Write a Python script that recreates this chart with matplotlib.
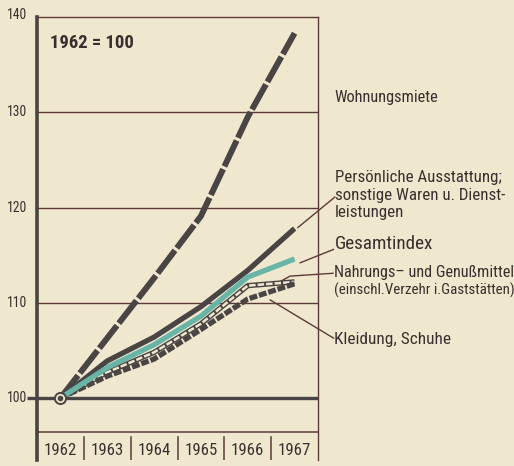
import matplotlib
matplotlib.use("Agg")
import matplotlib.pyplot as plt
from matplotlib import font_manager

# index values, 1962 = 100
years = [1962, 1963, 1964, 1965, 1966, 1967]
wohnungsmiete = [100, 106.3, 112.6, 119.1, 129.5, 138.3]
persoenlich = [100, 103.9, 106.4, 109.6, 113.4, 117.8]
gesamtindex = [100, 103.2, 105.6, 108.6, 112.7, 114.6]
nahrung = [100, 102.7, 104.8, 107.8, 111.8, 112.2]
kleidung = [100, 102.3, 104.1, 107.2, 110.4, 112.0]

y_ticks = [100, 110, 120, 130, 140]

PAPER = "#f0e7cf"
INK = "#4a4545"
RULE = "#5c3a3a"
TEAL = "#68b5a8"
TEXT = "#3a2f2f"

# the print uses a condensed grotesque; take the narrowest family we have
installed = {f.name for f in font_manager.fontManager.ttflist}
for cand in ["Liberation Sans Narrow", "Roboto Condensed", "Open Sans Condensed",
             "DejaVu Sans Condensed", "Roboto", "Liberation Sans"]:
    if cand in installed:
        FAMILY = cand
        break
else:
    FAMILY = "DejaVu Sans"
plt.rcParams["font.family"] = [FAMILY, "DejaVu Sans"]

fig = plt.figure(figsize=(5.14, 4.66), dpi=100, facecolor=PAPER)
ax = fig.add_axes([37 / 514, 6 / 466, 281 / 514, 443 / 466])
ax.set_facecolor(PAPER)
ax.set_xlim(1961.5, 1967.5)
ax.set_ylim(93.5, 140)
renderer = fig.canvas.get_renderer()


def fit(txt, width_px):
    # scale a text so it spans about the width it has in the print
    w = txt.get_window_extent(renderer).width
    txt.set_fontsize(txt.get_fontsize() * width_px / w)
    return txt


# frame
ax.spines["bottom"].set_visible(False)
ax.spines["left"].set_linewidth(2.6)
ax.spines["left"].set_color(INK)
for side in ["top", "right"]:
    ax.spines[side].set_linewidth(1.0)
    ax.spines[side].set_color(RULE)

# horizontal rules
for v in [110, 120, 130]:
    ax.axhline(v, color=RULE, lw=1.0, zorder=1)
ax.axhline(100, color=INK, lw=2.4, zorder=1)
ax.axhline(96.4, color=RULE, lw=1.1, zorder=1)
ax.plot([-0.035, 0], [100, 100], transform=ax.get_yaxis_transform(),
        color=INK, lw=2.4, clip_on=False, solid_capstyle="butt")

# year row
ax.set_xticks([])
for y in years:
    t = ax.text(y, 94.5, str(y), ha="center", va="center", fontsize=12, color=TEXT)
    fit(t, 33)
for y in years[:-1]:
    ax.plot([y + 0.5, y + 0.5], [93.5, 95.9], color=RULE, lw=1.1)

# y labels
ax.set_yticks([])
for v in y_ticks:
    t = ax.text(-0.035, v + (0.25 if v == 140 else 0), str(v),
                transform=ax.get_yaxis_transform(), ha="right", va="center",
                fontsize=10, color=TEXT)
    fit(t, 20)

# series
ax.plot(years, wohnungsmiete, color=INK, lw=4.3, dashes=(4.8, 0.5),
        solid_capstyle="butt", dash_capstyle="butt", zorder=4)
ax.plot(years, nahrung, color=INK, lw=3.8, solid_capstyle="butt", zorder=3)
ax.plot(years, nahrung, color=PAPER, lw=1.8, dashes=(2.6, 0.8),
        dash_capstyle="butt", zorder=3.1)
ax.plot(years, kleidung, color=INK, lw=3.8, dashes=(1.5, 0.35),
        dash_capstyle="butt", zorder=3.2)
ax.plot(years, persoenlich, color=INK, lw=3.8, solid_capstyle="butt", zorder=4)
ax.plot(years, gesamtindex, color=TEAL, lw=3.8, solid_capstyle="butt", zorder=5)
ax.plot([1962], [100], "o", ms=8, mfc=PAPER, mec=INK, mew=1.4, zorder=6)
ax.plot([1962], [100], "o", ms=3, mfc=INK, mec=INK, zorder=7)

t = ax.text(1961.78, 137.3, "1962 = 100", fontsize=13, fontweight="bold",
            color=TEXT, va="center", ha="left")
fit(t, 84)

# labels on the right with leader lines
tx = 1967.86
labels = [
    (tx, 131.6, "Wohnungsmiete", 104, 1.2),
    (tx, 121.3, "Persönliche Ausstattung;\nsonstige Waren u. Dienst-\nleistungen", 170, 1.2),
    (tx, 116.2, "Gesamtindex", 98, 1.2),
    (1967.84, 113.2, "Nahrungs– und Genußmittel", 180, 1.2),
    (1967.84, 111.3, "(einschl.Verzehr i.Gaststätten)", 180, 1.2),
    (1967.84, 106.1, "Kleidung, Schuhe", 116, 1.2),
]
for x, y, s, w, ls in labels:
    t = ax.text(x, y, s, fontsize=11, color=TEXT, va="center", ha="left",
                linespacing=ls, clip_on=False)
    fit(t, w)

leaders = [
    ([1967.86, 1967.07], [121.1, 117.9]),
    ([1967.83, 1967.12], [115.6, 114.2]),
    ([1967.82, 1966.90, 1966.72], [113.1, 112.8, 112.3]),
    ([1967.83, 1966.48], [106.3, 110.3]),
]
for xs, ys in leaders:
    ax.plot(xs, ys, color=RULE, lw=1.0, clip_on=False, zorder=2)

fig.savefig("out.png", dpi=100, facecolor=PAPER)
